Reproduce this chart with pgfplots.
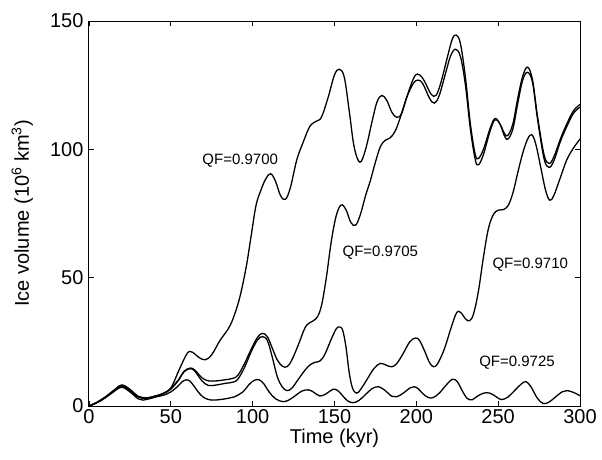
\documentclass[border=0pt]{standalone}
\usepackage{fontspec}
\setmainfont{Liberation Sans}
\usepackage{pgfplots}
\pgfplotsset{compat=1.18}
\pgfplotsset{curve/.style={black, line width=1.3pt, smooth, tension=0.6, mark=none}}
\begin{document}
\begin{tikzpicture}
\begin{axis}[
  scale only axis, width=491pt, height=385pt,
  xmin=0, xmax=300, ymin=0, ymax=150,
  xtick={0,50,...,300}, ytick={0,50,100,150},
  tick align=inside, major tick length=5pt,
  axis line style={line width=1pt},
  every tick/.style={line width=0.9pt,black},
  tick label style={font=\fontsize{20}{24}\selectfont},
  /pgf/number format/assume math mode=true,
  label style={font=\fontsize{20}{24}\selectfont},
  xlabel={Time (kyr)},
  ylabel={Ice volume (10\textsuperscript{6} km\textsuperscript{3})},
  xlabel style={at={(axis description cs:0.5,-0.083)}, anchor=center},
  ylabel style={at={(axis description cs:-0.136,0.5)}, anchor=center},
  yticklabel style={xshift=-2pt},
]
% QF=0.9700
\addplot[curve] coordinates {(0,0) (5,1.5) (10,3.5) (15,6) (20,7.8) (25,6) (30,3.5) (35,3) (40,3.8) (45,4.8) (50,7) (55,14) (60,20.5) (63,21) (67,19) (71,18) (75,20) (80,25.5) (85,30) (88,34) (92,42) (96,54) (99,66) (102,78) (105,84) (108,88.5) (111,90.5) (114,87.5) (117,82) (120,80.5) (123,85) (127,96) (131,103) (135,109) (139,111) (142,112.5) (146,120) (150,129) (153,131.2) (156,128) (159,115) (162,101) (165.5,95) (169,100) (173,111) (176,118.5) (179,121) (182,119) (185,114.5) (188,112.5) (191,114) (195,122) (199,128.5) (202,129) (205,126.5) (209,121.5) (212,121) (215,126) (219,136) (222,143) (224.5,144.5) (227,141) (230,128) (233,110) (236,98) (238,96.5) (241,100) (245,108) (248,112) (251,110) (254,106) (256,105.5) (259,110) (262,120) (265,128.5) (268,132) (271,127) (274,113) (278,98) (281,94.5) (284,97) (288,104) (292,110) (296,115) (300,117.5)};
% QF=0.9705
\addplot[curve] coordinates {(0,0) (5,1.5) (10,3.5) (15,6) (20,8.2) (25,6.5) (30,3.8) (35,3.2) (40,3.8) (45,4.8) (50,6.8) (55,10.5) (58,13.5) (62,14.8) (65,13.8) (69,11) (73,9.8) (78,9.8) (83,10.2) (88,10.8) (91,12) (95,16.5) (99,22) (103,26.8) (106,28.3) (109,27) (112,22.5) (115,18) (118,15.6) (121,15.3) (124,18) (128,24) (132,30.5) (135,32.5) (139,34.2) (142,39) (145,50) (148,64) (151,74) (154,78.3) (157,76.5) (160,71.5) (163,70.5) (166,75) (169,82) (172,88) (175,95) (178,101) (181,103.5) (184,104.5) (187,107) (190,112) (194,120) (198,125.5) (201,127) (204,125.5) (208,120) (211,118) (214,121) (218,130) (221,136.5) (224,139) (227,136) (230,125) (233,108) (236,96) (238,94) (241,98) (245,107) (248,111.5) (251,110) (254,105) (256,104) (259,108) (262,118) (265,127) (268,130) (271,126) (274,112) (278,96.5) (281,93) (284,95.5) (288,103) (292,109) (296,114) (300,116.5)};
% QF=0.9710
\addplot[curve] coordinates {(0,0) (5,1.4) (10,3.3) (15,5.8) (20,8) (25,6.3) (30,3.7) (35,3.1) (40,3.7) (45,4.7) (50,6.6) (55,10.3) (58,13.3) (62,14.6) (65,13.3) (69,9.8) (73,8) (78,8.2) (83,8.8) (88,9.3) (91,10.5) (95,15) (99,21) (103,25.8) (106,27) (109,25.5) (112,19) (115,11.5) (118,7.5) (121,6) (124,7) (128,10.5) (132,14) (135,16) (138,17) (141,17.5) (144,20) (148,26) (151,30) (153,30.8) (155,29.5) (157,23) (159,13) (161,7) (163.5,5) (166,6.5) (170,10.5) (174,14.5) (178,16.6) (182,15.8) (185,15.3) (188,16.5) (192,20.5) (196,25) (199.5,26.5) (202,25.5) (205,21.5) (208,17) (210.5,15.3) (213,16.5) (217,22) (221,30) (224.5,36.2) (227,36.5) (230,34) (232.5,33.2) (235,36) (238,45) (241,58) (244,69) (247,74.5) (250,76.3) (253,76.5) (256,78) (259,83) (262,91) (265,98.5) (268,104) (270.5,105.7) (273,102) (276,93) (279,84) (281.5,80.2) (284,82) (288,89) (292,96) (296,100.5) (300,104)};
% QF=0.9725
\addplot[curve] coordinates {(0,0) (5,1.3) (10,3.2) (15,5.5) (20,7.3) (25,5.5) (30,2.8) (33,2.3) (38,3) (42,3.7) (46,4.3) (50,5.5) (54,7.5) (57,9.5) (59.7,10.2) (62,9.5) (65,7) (68,4.5) (71,3) (75,2.3) (80,2.5) (85,3) (89,3.6) (94,5.5) (98,8.5) (101,10) (104,10.2) (107,8.5) (110,5.5) (114,2.8) (118.5,1.7) (122,2.3) (126,4) (130,5.8) (134,6.3) (137,5.5) (141,3.9) (145,4.8) (149,6.5) (152,6) (155,4) (158,2) (161.5,1.3) (165,2.2) (169,4.5) (173,6.8) (177,7.5) (181,6) (185,3.8) (188,3.6) (192,5) (196,7) (198.5,7.5) (201,6.8) (204,4.8) (207,3.4) (210,3.2) (214,5) (218,8) (222,10.4) (225,9.5) (228,6) (231,3) (234,2.4) (237,3.7) (241,5) (245,5) (249,3.5) (252,2.5) (256,3.5) (260,6) (264,8.5) (267,9.5) (270,7.5) (274,3) (277.5,1) (281,1.5) (285,3.5) (289,5.5) (292,6) (296,5.3) (300,4)};
\node[font=\fontsize{15}{18}\selectfont] at (axis cs:92.4,95.6) {QF=0.9700};
\node[font=\fontsize{15}{18}\selectfont] at (axis cs:178,59.6) {QF=0.9705};
\node[font=\fontsize{15}{18}\selectfont] at (axis cs:269.6,54.9) {QF=0.9710};
\node[font=\fontsize{15}{18}\selectfont] at (axis cs:261.5,16.8) {QF=0.9725};
\end{axis}
\pgfresetboundingbox
\path (-89pt,-53pt) rectangle (513pt,406pt);
\end{tikzpicture}
\end{document}
